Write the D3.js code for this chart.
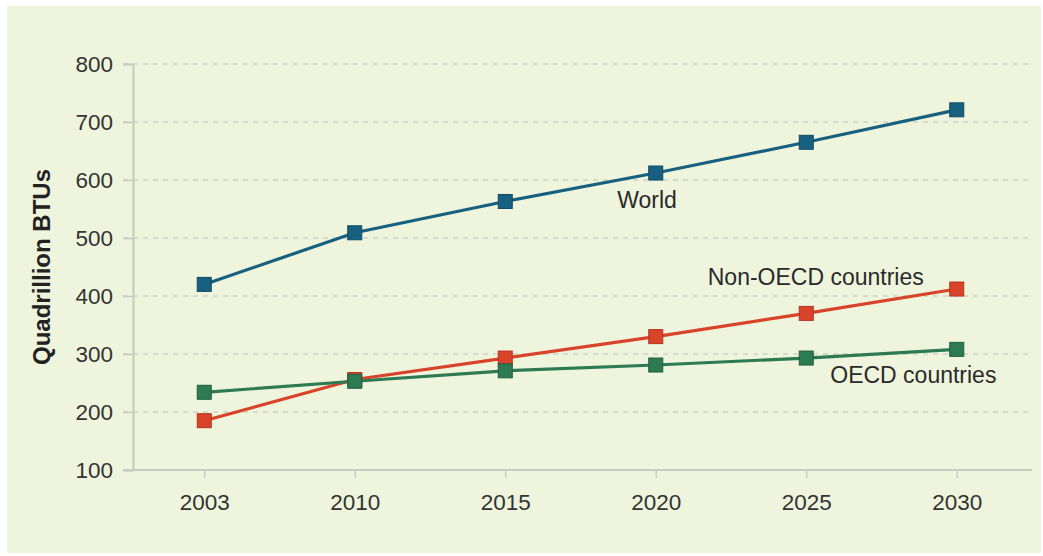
<!DOCTYPE html>
<html>
<head>
<meta charset="utf-8">
<script src="https://cdn.jsdelivr.net/npm/d3@7"></script>
<style>
  html, body { margin: 0; padding: 0; background: #ffffff; }
  svg { display: block; }
  text { font-family: "Liberation Sans", Arial, sans-serif; }
</style>
</head>
<body>
<svg id="chart" width="1043" height="556"></svg>
<script>
// Energy consumption projections, quadrillion BTUs
const years = ["2003", "2010", "2015", "2020", "2025", "2030"];
const world = [420, 509, 563, 612, 665, 721];
const nonOecd = [185, 256, 293, 330, 370, 412];
const oecd = [234, 253, 271, 281, 293, 308];
const yTicks = [100, 200, 300, 400, 500, 600, 700, 800];

const series = [
  { name: "World", values: world, color: "#17607f", stroke: "#0f4a63", label: { year: "2015", dx: 112, dy: 0 } },
  { name: "Non-OECD countries", values: nonOecd, color: "#d8432a", stroke: "#b53320", label: { year: "2020", dx: 52, dy: -58 } },
  { name: "OECD countries", values: oecd, color: "#2d7a53", stroke: "#1f5e3e", label: { year: "2025", dx: 24, dy: 19 } }
];

const svg = d3.select("#chart");
const FONT = "'Liberation Sans', Arial, sans-serif";

// panel background
svg.append("rect")
  .attr("x", 7).attr("y", 6)
  .attr("width", 1034).attr("height", 547)
  .attr("fill", "#eef5dc");

const plot = { left: 133, right: 1032, top: 64, bottom: 470 };

const x = d3.scalePoint().domain(years).range([plot.left - 4, plot.right]).padding(0.5);
const y = d3.scaleLinear().domain([100, 800]).range([plot.bottom, plot.top]);

// dashed horizontal gridlines
svg.append("g")
  .selectAll("line")
  .data(yTicks.filter(d => d > 100))
  .join("line")
  .attr("x1", plot.left - 10).attr("x2", plot.right)
  .attr("y1", d => y(d)).attr("y2", d => y(d))
  .attr("stroke", "#cdd3c6")
  .attr("stroke-width", 1.6)
  .attr("stroke-dasharray", "5,5");

// y axis
const yAxis = svg.append("g")
  .attr("transform", `translate(${plot.left},0)`)
  .call(d3.axisLeft(y).tickValues(yTicks).tickSize(10).tickPadding(10));
yAxis.select(".domain").attr("stroke", "#c7cdc2").attr("stroke-width", 2.2);
yAxis.selectAll(".tick line").attr("stroke", "#c7cdc2").attr("stroke-width", 1.6);
yAxis.selectAll(".tick text")
  .attr("font-size", 22.5).attr("fill", "#333333")
  .attr("font-family", FONT);

// x axis
const xAxis = svg.append("g")
  .attr("transform", `translate(0,${plot.bottom})`)
  .call(d3.axisBottom(x).tickSizeInner(8).tickSizeOuter(0).tickPadding(16));
xAxis.select(".domain")
  .attr("d", `M${plot.left - 10},0H${plot.right}`)
  .attr("stroke", "#c7cdc2").attr("stroke-width", 2.2);
xAxis.selectAll(".tick line").attr("stroke", "#c7cdc2").attr("stroke-width", 1.4);
xAxis.selectAll(".tick text")
  .attr("font-size", 22.5).attr("fill", "#333333")
  .attr("font-family", FONT);

// y axis title
svg.append("text")
  .attr("transform", `translate(50,${(plot.top + plot.bottom) / 2}) rotate(-90)`)
  .attr("text-anchor", "middle")
  .attr("font-size", 24)
  .attr("font-weight", "bold")
  .attr("fill", "#222222")
  .text("Quadrillion BTUs");

// lines and square markers
const line = d3.line()
  .x((d, i) => x(years[i]))
  .y(d => y(d));

const ms = 14;
series.forEach(s => {
  const g = svg.append("g");
  g.append("path")
    .datum(s.values)
    .attr("d", line)
    .attr("fill", "none")
    .attr("stroke", s.color)
    .attr("stroke-width", 3.2);
  g.selectAll("rect")
    .data(s.values)
    .join("rect")
    .attr("x", (d, i) => x(years[i]) - ms / 2)
    .attr("y", d => y(d) - ms / 2)
    .attr("width", ms).attr("height", ms)
    .attr("fill", s.color)
    .attr("stroke", s.stroke)
    .attr("stroke-width", 1);
  const li = years.indexOf(s.label.year);
  g.append("text")
    .attr("x", x(s.label.year) + s.label.dx)
    .attr("y", y(s.values[li]) + s.label.dy)
    .attr("font-size", 23)
    .attr("fill", "#2a2a2a")
    .attr("dominant-baseline", "middle")
    .text(s.name);
});
</script>
</body>
</html>
